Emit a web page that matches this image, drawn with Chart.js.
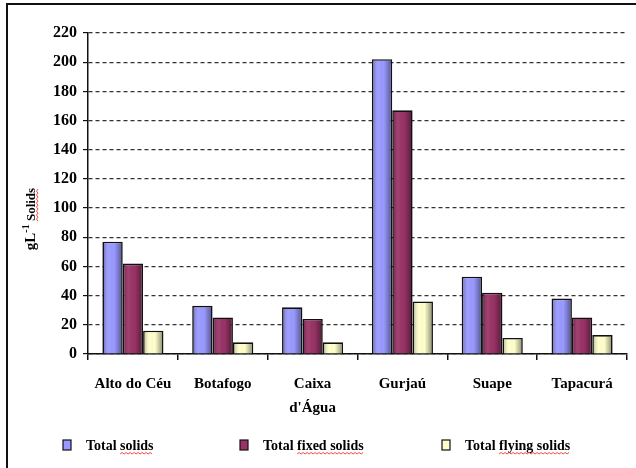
<!DOCTYPE html>
<html lang="en">
  <head>
    <meta charset="UTF-8" />
    <title>Solids</title>
    <script src="https://cdn.jsdelivr.net/npm/chart.js"></script>
    <style>
      body { margin: 0; background: #fff; }
      #wrap { position: relative; width: 636px; height: 468px; overflow: hidden; }
      #frame {
        position: absolute; left: 6px; top: 3px; width: 700px; height: 500px;
        border-top: 2px solid #111; border-left: 2px solid #111;
      }
      #myChart { position: absolute; left: 0; top: 0; }
    </style>
  </head>
  <body>
    <div id="wrap">
      <div id="frame"></div>
      <canvas id="myChart" width="636" height="468"></canvas>
    </div>
    <script>
      // data
      const sites = ["Alto do Céu", "Botafogo", ["Caixa", "d'Água"], "Gurjaú", "Suape", "Tapacurá"];
      const totalSolids = [77, 33, 32, 202, 53, 38];
      const fixedSolids = [62, 25, 24, 167, 42, 25];
      const flyingSolids = [16, 8, 8, 36, 11, 13];
      const seriesNames = ["Total solids", "Total fixed solids", "Total flying solids"];
      const yMax = 220;
      const yStep = 20;

      const serif = "'Liberation Serif', 'Times New Roman', serif";
      const colors = ["#9999FF", "#993366", "#FFFFCC"];
      const underlined = ["solids", "fixed solids", "flying solids"];

      function wavy(ctx, x1, x2, y) {
        ctx.save();
        ctx.strokeStyle = "#f04848";
        ctx.lineWidth = 1;
        ctx.beginPath();
        let up = true;
        ctx.moveTo(x1, y);
        for (let x = x1 + 2; x <= x2; x += 2) {
          ctx.lineTo(x, up ? y - 1.5 : y);
          up = !up;
        }
        ctx.stroke();
        ctx.restore();
      }

      // 3d-ish shading over every bar
      const barShade = {
        id: "barShade",
        afterDatasetsDraw(chart) {
          const ctx = chart.ctx;
          chart.data.datasets.forEach((ds, i) => {
            chart.getDatasetMeta(i).data.forEach((bar) => {
              const p = bar.getProps(["x", "y", "base", "width"], true);
              const left = p.x - p.width / 2 + 1.5;
              const w = p.width - 3;
              const g = ctx.createLinearGradient(left, 0, left + w, 0);
              g.addColorStop(0, "rgba(0,0,0,0.22)");
              g.addColorStop(0.3, "rgba(255,255,255,0.06)");
              g.addColorStop(0.6, "rgba(0,0,0,0)");
              g.addColorStop(1, "rgba(0,0,0,0.38)");
              ctx.save();
              ctx.fillStyle = g;
              ctx.fillRect(left, p.y + 1.5, w, p.base - p.y - 1.5);
              ctx.restore();
            });
          });
        },
      };

      // y title with superscript + legend row at the bottom
      const extras = {
        id: "extras",
        afterDraw(chart) {
          const ctx = chart.ctx;
          ctx.save();
          ctx.fillStyle = "#000";
          ctx.textBaseline = "alphabetic";

          // axis title
          ctx.save();
          ctx.translate(35, 219);
          ctx.rotate(-Math.PI / 2);
          const f1 = "bold 15px " + serif, f2 = "bold 10px " + serif, f3 = "bold 13px " + serif;
          ctx.font = f1; const w1 = ctx.measureText("gL").width;
          ctx.font = f2; const w2 = ctx.measureText("-1").width;
          ctx.font = f3; const w3 = ctx.measureText(" Solids").width;
          const ws = ctx.measureText(" ").width;
          let x = -(w1 + w2 + w3) / 2;
          ctx.font = f1; ctx.fillText("gL", x, 0); x += w1;
          ctx.font = f2; ctx.fillText("-1", x, -6); x += w2;
          ctx.font = f3; ctx.fillText(" Solids", x, 0);
          wavy(ctx, x + ws, x + w3, 3);
          ctx.restore();

          // legend
          const legendX = [63, 240, 442];
          const ly = 445;
          ctx.font = "bold 14px " + serif;
          chart.data.datasets.forEach((ds, i) => {
            const bx = legendX[i];
            ctx.fillStyle = ds.backgroundColor;
            ctx.fillRect(bx, ly - 5, 8, 10);
            ctx.strokeStyle = "#111";
            ctx.lineWidth = 1.2;
            ctx.strokeRect(bx, ly - 5, 8, 10);
            ctx.fillStyle = "#000";
            const tx = bx + 23;
            ctx.fillText(ds.label, tx, ly + 5);
            const k = ds.label.indexOf(underlined[i]);
            const sx = tx + ctx.measureText(ds.label.slice(0, k)).width;
            wavy(ctx, sx, sx + ctx.measureText(underlined[i]).width, ly + 9);
          });
          ctx.restore();
        },
      };

      function makeSet(i, values) {
        return {
          label: seriesNames[i],
          data: values,
          backgroundColor: colors[i],
          borderColor: "#111",
          borderWidth: 1.6,
          barPercentage: 1.0,
          categoryPercentage: 0.68,
        };
      }

      new Chart(document.getElementById("myChart"), {
        type: "bar",
        data: {
          labels: sites,
          datasets: [makeSet(0, totalSolids), makeSet(1, fixedSolids), makeSet(2, flyingSolids)],
        },
        options: {
          responsive: false,
          animation: false,
          layout: { padding: { left: 40, top: 33, right: 9, bottom: 0 } },
          plugins: { legend: { display: false }, tooltip: { enabled: false } },
          scales: {
            x: {
              afterFit: (s) => { s.height = 114; },
              border: { color: "#111", width: 1.5 },
              grid: { drawOnChartArea: false, drawTicks: true, tickLength: 6, color: "#111", lineWidth: 1.5, offset: true },
              ticks: {
                color: "#000",
                font: { family: serif, size: 15, weight: "bold", lineHeight: 1.6 },
                padding: 12,
                maxRotation: 0,
                autoSkip: false,
              },
            },
            y: {
              min: 0,
              max: yMax,
              afterFit: (s) => { s.width = 48; },
              border: { color: "#111", width: 1.5, dash: [4, 3] },
              grid: {
                color: "#333",
                lineWidth: 1.2,
                tickLength: 5,
                tickColor: "#111",
                tickBorderDash: [],
              },
              ticks: {
                stepSize: yStep,
                color: "#000",
                padding: 6,
                font: { family: serif, size: 16, weight: "bold" },
              },
            },
          },
        },
        plugins: [barShade, extras],
      });
    </script>
  </body>
</html>
